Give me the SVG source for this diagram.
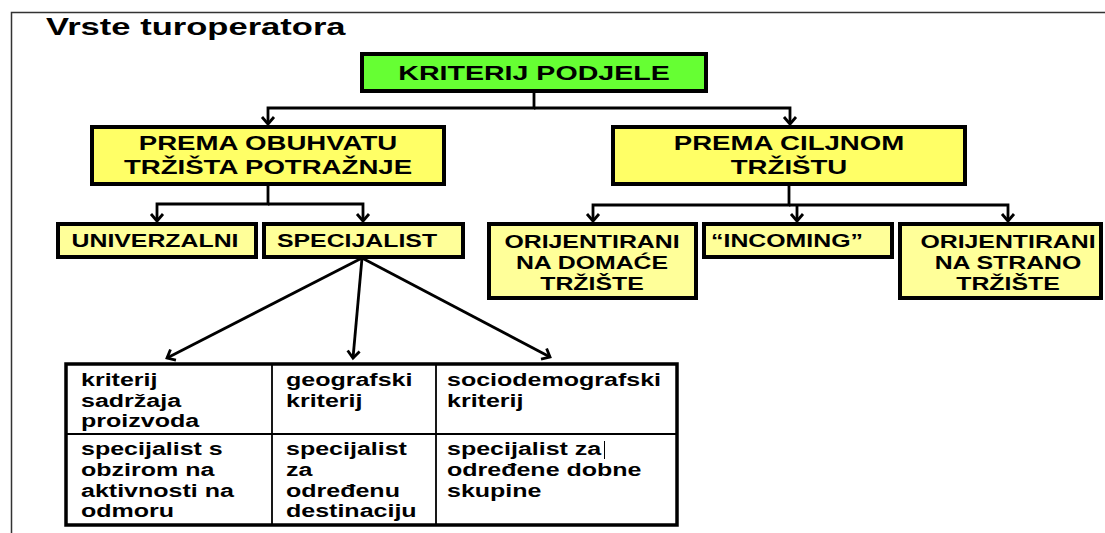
<svg xmlns="http://www.w3.org/2000/svg" width="1105" height="533" viewBox="0 0 1105 533">
<style>
.t{font-family:"Liberation Sans",Arial,sans-serif;font-weight:bold;fill:#000}
.bx{stroke:#000;stroke-width:4}
.p{fill:#FFFF66}
.c{fill:#FFFF99}
.g{fill:#66FF33}
.ln{fill:none;stroke:#000;stroke-width:2.8}
.tc{font-size:18px}
.hb{font-size:20px;text-anchor:middle}
.hc{font-size:18px;text-anchor:middle}
</style>
<defs>
<marker id="ar" markerUnits="userSpaceOnUse" markerWidth="20" markerHeight="20" refX="0" refY="0" viewBox="-10 -10 20 20" orient="auto" overflow="visible">
<path d="M-7,-6 L0,0 L-7,6" fill="none" stroke="#000" stroke-width="2.8"/>
</marker>
</defs>
<rect width="1105" height="533" fill="#fff"/>
<path d="M11.5,533 V12.5 H1105" fill="none" stroke="#333" stroke-width="1.5"/>
<text class="t" font-size="24" transform="translate(46 35) scale(1.44 1)">Vrste turoperatora</text>

<g id="connectors">
<path class="ln" d="M534,91 V108 H268 V124" marker-end="url(#ar)"/>
<path class="ln" d="M534,108 H790 V124" marker-end="url(#ar)"/>
<path class="ln" d="M268,184 V204 H157 V221" marker-end="url(#ar)"/>
<path class="ln" d="M268,204 H363 V221" marker-end="url(#ar)"/>
<path class="ln" d="M789,184 V205 H593 V221" marker-end="url(#ar)"/>
<path class="ln" d="M789,205 H1008 V221" marker-end="url(#ar)"/>
<path class="ln" d="M797,205 V221" marker-end="url(#ar)"/>
<path class="ln" d="M362,258 L167,358" marker-end="url(#ar)"/>
<path class="ln" d="M362,258 L353,358" marker-end="url(#ar)"/>
<path class="ln" d="M362,258 L550,357" marker-end="url(#ar)"/>
</g>

<g id="kriterij">
<rect class="bx g" x="362" y="54" width="344" height="37"/>
<text class="t hb" font-size="22" transform="translate(534 80) scale(1.43 1)">KRITERIJ PODJELE</text>
</g>

<g id="obuhvat">
<rect class="bx p" x="92" y="127" width="352" height="57"/>
<text class="t hb" transform="translate(268 150) scale(1.38 1)">PREMA OBUHVATU</text>
<text class="t hb" transform="translate(268 174) scale(1.38 1)">TRŽIŠTA POTRAŽNJE</text>
</g>

<g id="ciljno">
<rect class="bx p" x="613" y="127" width="352" height="57"/>
<text class="t hb" transform="translate(789 150) scale(1.38 1)">PREMA CILJNOM</text>
<text class="t hb" transform="translate(789 174) scale(1.38 1)">TRŽIŠTU</text>
</g>

<g id="univerzalni">
<rect class="bx c" x="58" y="224" width="198" height="33"/>
<text class="t hc" transform="translate(155 247) scale(1.38 1)">UNIVERZALNI</text>
</g>

<g id="specijalist">
<rect class="bx c" x="264" y="224" width="199" height="33"/>
<text class="t hc" transform="translate(357 247) scale(1.38 1)">SPECIJALIST</text>
</g>

<g id="domace">
<rect class="bx c" x="489" y="224" width="207" height="74"/>
<text class="t hc" transform="translate(592 248) scale(1.38 1)">ORIJENTIRANI</text>
<text class="t hc" transform="translate(592 269) scale(1.38 1)">NA DOMAĆE</text>
<text class="t hc" transform="translate(592 290) scale(1.38 1)">TRŽIŠTE</text>
</g>

<g id="incoming">
<rect class="bx c" x="704" y="224" width="188" height="33"/>
<text class="t hc" transform="translate(787 247) scale(1.38 1)">“INCOMING”</text>
</g>

<g id="strano">
<rect class="bx c" x="900" y="224" width="201" height="74"/>
<text class="t hc" transform="translate(1008 248) scale(1.38 1)">ORIJENTIRANI</text>
<text class="t hc" transform="translate(1008 269) scale(1.38 1)">NA STRANO</text>
<text class="t hc" transform="translate(1008 290) scale(1.38 1)">TRŽIŠTE</text>
</g>

<g id="tablica">
<rect x="66" y="364" width="611" height="161" fill="#fff" stroke="#000" stroke-width="3.5"/>
<path d="M272,364 V525 M436,364 V525 M66,434 H677" stroke="#000" stroke-width="1.8" fill="none"/>
<text class="t tc" transform="translate(81 386) scale(1.39 1)">kriterij</text>
<text class="t tc" transform="translate(81 407) scale(1.39 1)">sadržaja</text>
<text class="t tc" transform="translate(81 427) scale(1.39 1)">proizvoda</text>
<text class="t tc" transform="translate(286 386) scale(1.39 1)">geografski</text>
<text class="t tc" transform="translate(286 407) scale(1.39 1)">kriterij</text>
<text class="t tc" transform="translate(447 386) scale(1.39 1)">sociodemografski</text>
<text class="t tc" transform="translate(447 407) scale(1.39 1)">kriterij</text>
<text class="t tc" transform="translate(81 455) scale(1.39 1)">specijalist s</text>
<text class="t tc" transform="translate(81 476) scale(1.39 1)">obzirom na</text>
<text class="t tc" transform="translate(81 497) scale(1.39 1)">aktivnosti na</text>
<text class="t tc" transform="translate(81 517) scale(1.39 1)">odmoru</text>
<text class="t tc" transform="translate(286 455) scale(1.39 1)">specijalist</text>
<text class="t tc" transform="translate(286 476) scale(1.39 1)">za</text>
<text class="t tc" transform="translate(286 497) scale(1.39 1)">određenu</text>
<text class="t tc" transform="translate(286 517) scale(1.39 1)">destinaciju</text>
<text class="t tc" transform="translate(447 455) scale(1.39 1)">specijalist za</text>
<text class="t tc" transform="translate(447 476) scale(1.39 1)">određene dobne</text>
<text class="t tc" transform="translate(447 497) scale(1.39 1)">skupine</text>
<path d="M604.5,441 V459" stroke="#000" stroke-width="1"/>
</g>
</svg>
